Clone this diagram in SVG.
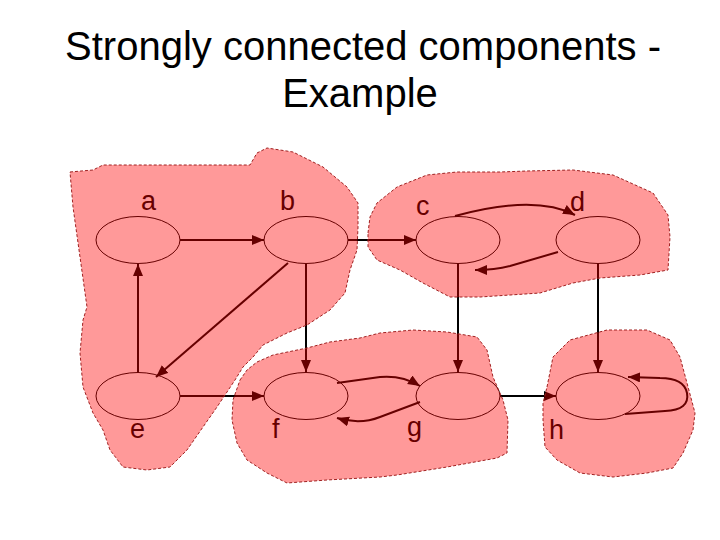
<svg xmlns="http://www.w3.org/2000/svg" width="720" height="540" viewBox="0 0 720 540">
<style>
.title{font-family:"Liberation Sans",Arial,sans-serif;font-size:40px;fill:#000}
.lbl{font-family:"Liberation Sans",Arial,sans-serif;font-size:27px;fill:#000}
.node{fill:none;stroke:#000;stroke-width:1}
.edge{fill:none;stroke:#000;stroke-width:2}
.arr{marker-end:url(#ah)}
.blob{fill:#ff0000;fill-opacity:0.4;stroke:#a02020;stroke-width:1;stroke-dasharray:3 2}
</style>
<defs>
<marker id="ah" markerUnits="userSpaceOnUse" markerWidth="13" markerHeight="11" refX="12" refY="5" orient="auto">
<path d="M0,0 L12,5 L0,10 z" fill="#000"/>
</marker>
</defs>
<rect width="720" height="540" fill="#fff"/>
<text class="title" x="363" y="60" text-anchor="middle">Strongly connected components -</text>
<text class="title" x="360" y="107" text-anchor="middle">Example</text>

<g id="connectors">
<path class="edge arr" d="M180,240 L264,240"/>
<path class="edge arr" d="M348,240 L416,240"/>
<path class="edge arr" d="M455,216 Q535,194 575,215"/>
<path class="edge arr" d="M558,252 L510,266 Q495,270 475,270"/>
<path class="edge arr" d="M458,263 L458,372"/>
<path class="edge arr" d="M598,263 L598,372"/>
<path class="edge arr" d="M306,264 L306,372"/>
<path class="edge arr" d="M288,263 L156,377"/>
<path class="edge arr" d="M138,372 L138,264"/>
<path class="edge arr" d="M180,396 L264,396"/>
<path class="edge arr" d="M337,383 L380,377 Q402,375 420,386"/>
<path class="edge arr" d="M420,402 L380,417 Q360,425 337,418"/>
<path class="edge arr" d="M500,396 L556,396"/>
<path class="edge arr" d="M625,414 L665,411 Q690,410 687,393 Q684,378 660,378 L628,377"/>
</g>

<g id="node-a"><ellipse class="node" cx="138" cy="240" rx="42" ry="23.5"/><text class="lbl" x="141" y="210">a</text></g>
<g id="node-b"><ellipse class="node" cx="306" cy="240" rx="42" ry="23.5"/><text class="lbl" x="280" y="210">b</text></g>
<g id="node-c"><ellipse class="node" cx="458" cy="240" rx="42" ry="23.5"/><text class="lbl" x="416" y="215">c</text></g>
<g id="node-d"><ellipse class="node" cx="598" cy="240" rx="42" ry="23.5"/><text class="lbl" x="570" y="211">d</text></g>
<g id="node-e"><ellipse class="node" cx="138" cy="396" rx="42" ry="23.5"/><text class="lbl" x="130" y="438">e</text></g>
<g id="node-f"><ellipse class="node" cx="306" cy="396" rx="42" ry="23.5"/><text class="lbl" x="272" y="438">f</text></g>
<g id="node-g"><ellipse class="node" cx="458" cy="396" rx="42" ry="23.5"/><text class="lbl" x="407" y="436">g</text></g>
<g id="node-h"><ellipse class="node" cx="598" cy="396" rx="42" ry="23.5"/><text class="lbl" x="549" y="439">h</text></g>

<g id="components">
<path class="blob" d="M70,172 L93,170 L103,165 L250,165 L257,153 L267,148 L293,152 L323,167 L347,187 L358,203 L358,227 L357,250 L350,270 L345,293 L330,310 L307,325 L287,333 L263,345 L253,357 L243,367 L235,380 L227,392 L217,407 L203,427 L187,450 L170,467 L147,470 L123,467 L110,450 L103,430 L93,413 L83,387 L80,353 L83,320 L87,307 L80,257 L73,207 Z"/>
<path class="blob" d="M368,233 L370,217 L377,203 L397,187 L427,175 L457,172 L500,172 L527,171 L573,170 L613,175 L653,193 L668,215 L670,237 L668,270 L640,275 L600,278 L573,283 L540,293 L480,297 L450,297 L423,283 L400,270 L377,260 L368,247 Z"/>
<path class="blob" d="M240,380 L247,370 L257,362 L273,355 L307,348 L330,342 L360,338 L380,333 L413,330 L447,332 L477,337 L487,350 L493,377 L503,400 L508,420 L507,453 L497,458 L447,467 L397,475 L380,477 L327,480 L287,483 L267,473 L247,460 L237,443 L232,420 L233,400 Z"/>
<path class="blob" d="M547,387 L553,357 L570,340 L607,330 L647,330 L670,340 L680,357 L687,383 L695,413 L693,430 L683,453 L673,468 L647,473 L613,477 L580,473 L557,460 L545,447 L543,420 L543,403 Z"/>
</g>
</svg>
